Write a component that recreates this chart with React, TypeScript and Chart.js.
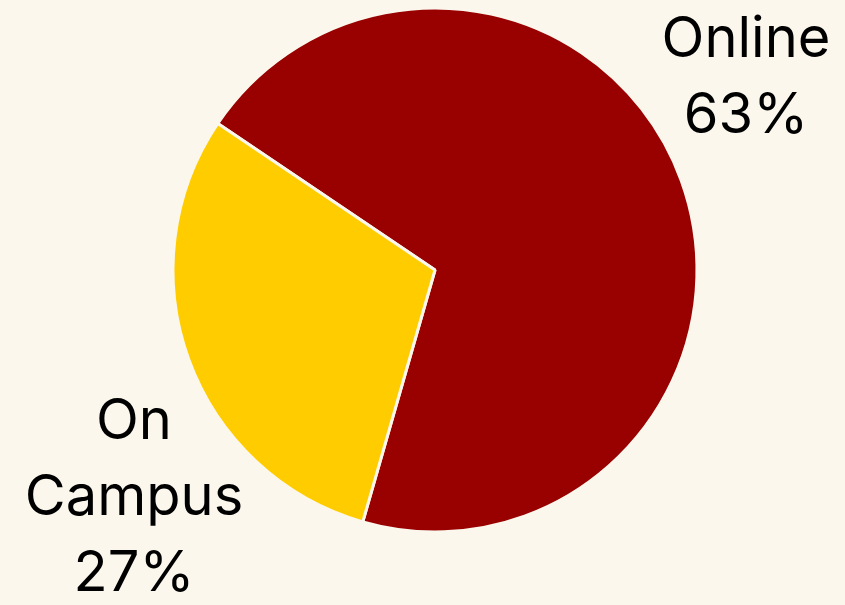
import React, { useEffect, useRef } from "react";
import { Chart, registerables } from "chart.js";

Chart.register(...registerables);

const categories = ["Online", "On Campus"];
const values = [63, 27];
const labelLines = [
  ["Online", "63%"],
  ["On", "Campus", "27%"],
];
const colors = ["#990000", "#FFCC00"];
const BG = "#FBF7EC";

const labelPlugin = {
  id: "sliceLabels",
  afterDraw(chart: any) {
    const ctx = chart.ctx;
    const anchors = [
      { x: 746, y: 57 },
      { x: 134, y: 439 },
    ];
    ctx.save();
    ctx.fillStyle = "#000000";
    ctx.font = "400 56px Inter, 'Open Sans', sans-serif";
    ctx.textAlign = "center";
    ctx.textBaseline = "alphabetic";
    labelLines.forEach((lines, i) => {
      lines.forEach((t, j) => {
        ctx.fillText(t, anchors[i].x, anchors[i].y + j * 76);
      });
    });
    ctx.restore();
  },
};

export default function App() {
  const ref = useRef<HTMLCanvasElement>(null);
  useEffect(() => {
    document.body.style.margin = "0";
    document.body.style.background = BG;
    const chart = new Chart(ref.current!, {
      type: "pie",
      data: {
        labels: categories,
        datasets: [
          {
            data: values,
            backgroundColor: colors,
            borderColor: BG,
            borderWidth: 3,
          },
        ],
      },
      options: {
        animation: false,
        responsive: false,
        rotation: -56,
        radius: 262,
        layout: { padding: { left: 25, right: 0, top: 0, bottom: 65 } },
        plugins: {
          legend: { display: false },
          tooltip: { enabled: false },
        },
      },
      plugins: [labelPlugin],
    });
    return () => chart.destroy();
  }, []);
  return (
    <div style={{ width: 845, height: 605, background: BG }}>
      <canvas ref={ref} width={845} height={605} />
    </div>
  );
}
